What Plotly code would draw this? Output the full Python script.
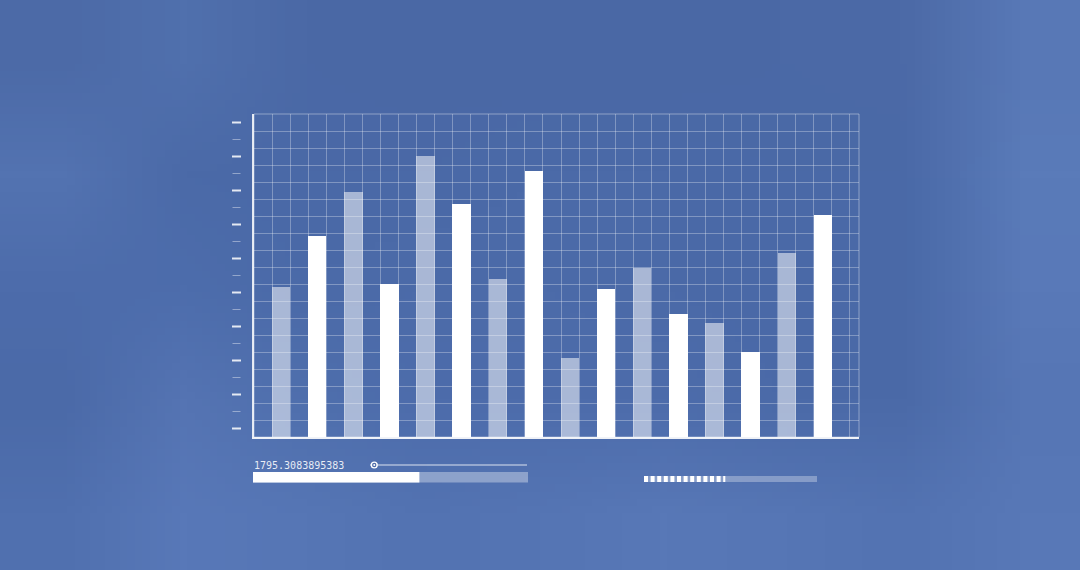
import base64
import struct
import zlib

import plotly.graph_objects as go

# ---------------- data ----------------
bar_slots = list(range(1, 17))
bar_values = [8.83, 11.84, 14.39, 8.98, 16.55, 13.70, 9.27, 15.63,
              4.62, 8.68, 9.92, 7.21, 6.70, 4.99, 10.80, 13.04]
bar_styles = ["light", "solid"] * 8
y_grid_max = 19
x_grid_max = 33.5
major_ticks = [0.5, 2.5, 4.5, 6.5, 8.5, 10.5, 12.5, 14.5, 16.5, 18.5]
minor_ticks = [1.5, 3.5, 5.5, 7.5, 9.5, 11.5, 13.5, 15.5, 17.5]
readout_text = "1795.3083895383"
slider_value = 0.027
progress_value = 0.605
dash_progress = 0.47

# coarse tones of the blurred backdrop (rows top->bottom, cols left->right)
backdrop_tones = [
    ["4c6aa7", "5070ad", "4b69a6", "4a68a5", "4a68a5", "4a68a5", "4b69a6", "4c6aa7", "5878b6"],
    ["5373b1", "4b6aa8", "4a69a7", "4a69a7", "4b6aa8", "4b6aa8", "4a69a7", "4a69a7", "5a7bb9"],
    ["4d6cab", "4d6dac", "4b6aa8", "4c6ba9", "4c6ba9", "4b6aa8", "4a69a7", "4a69a7", "5979b8"],
    ["4b6aa8", "5574b3", "4f6fad", "4d6cab", "4d6cab", "4d6cab", "4b6aa8", "4b6aa8", "5676b5"],
    ["5070af", "5878b8", "5676b5", "5373b2", "5575b4", "5878b7", "5676b5", "5373b2", "5878b7"],
]

# ---------------- layout helpers (pixel -> paper) ----------------
W, H = 1080, 570
L, R, T, B = 254, 859, 114, 437


def px(x):
    return (x - L) / (R - L)


def py(y):
    return (B - y) / (B - T)


def tiny_png(rows_hex):
    h = len(rows_hex)
    w = len(rows_hex[0])
    raw = b"".join(b"\x00" + b"".join(bytes.fromhex(c) for c in row) for row in rows_hex)

    def chunk(tag, data):
        return (struct.pack(">I", len(data)) + tag + data
                + struct.pack(">I", zlib.crc32(tag + data) & 0xFFFFFFFF))

    png = (b"\x89PNG\r\n\x1a\n"
           + chunk(b"IHDR", struct.pack(">IIBBBBB", w, h, 8, 2, 0, 0, 0))
           + chunk(b"IDAT", zlib.compress(raw))
           + chunk(b"IEND", b""))
    return "data:image/png;base64," + base64.b64encode(png).decode()


BG = "#4c6aa8"
WHITE = "#ffffff"
LIGHT = "rgba(255,255,255,0.52)"
GRID = "rgba(255,255,255,0.30)"

bar_x = [2 * s - 0.5 for s in bar_slots]
bar_colors = [LIGHT if s == "light" else WHITE for s in bar_styles]

fig = go.Figure()
fig.add_trace(go.Bar(
    x=bar_x, y=bar_values, width=1.02,
    marker=dict(color=bar_colors, line=dict(width=0)),
    hoverinfo="skip", showlegend=False,
))

images = [dict(
    source=tiny_png(backdrop_tones), xref="paper", yref="paper",
    x=px(0), y=py(0), sizex=px(W) - px(0), sizey=py(0) - py(H),
    xanchor="left", yanchor="top", sizing="stretch", layer="below", opacity=1,
)]

shapes = []

# frame (top/right in grid tone)
shapes.append(dict(type="rect", xref="paper", yref="paper", x0=0, x1=1, y0=0, y1=1,
                   line=dict(color="rgba(255,255,255,0.38)", width=1), layer="below"))

# left outside tick marks
for v in major_ticks:
    shapes.append(dict(type="line", xref="paper", yref="y",
                       x0=px(232), x1=px(241), y0=v, y1=v,
                       line=dict(color="rgba(255,255,255,0.85)", width=2)))
for v in minor_ticks:
    shapes.append(dict(type="line", xref="paper", yref="y",
                       x0=px(232.5), x1=px(240.5), y0=v, y1=v,
                       line=dict(color="rgba(255,255,255,0.40)", width=1)))

# slider
sl_x0, sl_x1, sl_y = 370, 527, 465
shapes.append(dict(type="line", xref="paper", yref="paper",
                   x0=px(sl_x0), x1=px(sl_x1), y0=py(sl_y), y1=py(sl_y),
                   line=dict(color="rgba(255,255,255,0.8)", width=1)))
kx = sl_x0 + slider_value * (sl_x1 - sl_x0)
for r, col in [(3.6, WHITE), (2.2, BG), (1.0, WHITE)]:
    shapes.append(dict(type="circle", xref="paper", yref="paper",
                       x0=px(kx - r), x1=px(kx + r), y0=py(sl_y + r), y1=py(sl_y - r),
                       fillcolor=col, line=dict(width=0)))

# progress bar
pb_x0, pb_x1, pb_y0, pb_y1 = 253, 528, 472, 482.5
shapes.append(dict(type="rect", xref="paper", yref="paper",
                   x0=px(pb_x0), x1=px(pb_x1), y0=py(pb_y1), y1=py(pb_y0),
                   fillcolor="rgba(255,255,255,0.35)", line=dict(width=0)))
shapes.append(dict(type="rect", xref="paper", yref="paper",
                   x0=px(pb_x0), x1=px(pb_x0 + progress_value * (pb_x1 - pb_x0)),
                   y0=py(pb_y1), y1=py(pb_y0),
                   fillcolor=WHITE, line=dict(width=0)))

# dashed progress bar
db_x0, db_x1, db_y0, db_y1 = 644, 817, 476, 482
shapes.append(dict(type="rect", xref="paper", yref="paper",
                   x0=px(db_x0), x1=px(db_x1), y0=py(db_y1), y1=py(db_y0),
                   fillcolor="rgba(255,255,255,0.30)", line=dict(width=0)))
dash_end = db_x0 + dash_progress * (db_x1 - db_x0)
pitch, dw = 6.6, 4.0
xx = db_x0
while xx < dash_end:
    shapes.append(dict(type="rect", xref="paper", yref="paper",
                       x0=px(xx), x1=px(min(xx + dw, dash_end)),
                       y0=py(db_y1), y1=py(db_y0),
                       fillcolor=WHITE, line=dict(width=0)))
    xx += pitch

annotations = [dict(
    text=readout_text, xref="paper", yref="paper",
    x=px(252), y=py(465), xanchor="left", yanchor="middle", showarrow=False,
    font=dict(family="DejaVu Sans Mono", size=10, color="rgba(255,255,255,0.88)"),
)]

fig.update_layout(
    width=W, height=H,
    margin=dict(l=L, r=W - R, t=T, b=H - B, pad=0),
    paper_bgcolor=BG, plot_bgcolor="rgba(0,0,0,0)",
    shapes=shapes, annotations=annotations, images=images,
    bargap=0, showlegend=False,
)
fig.update_xaxes(range=[0, x_grid_max], tickvals=list(range(0, 34)),
                 showticklabels=False, ticks="", showgrid=True, gridcolor=GRID, gridwidth=1,
                 showline=True, linecolor="rgba(255,255,255,0.9)", linewidth=2,
                 zeroline=False, fixedrange=True)
fig.update_yaxes(range=[0, y_grid_max], tickvals=list(range(0, y_grid_max + 1)),
                 showticklabels=False, ticks="", showgrid=True, gridcolor=GRID, gridwidth=1,
                 showline=True, linecolor="rgba(255,255,255,0.85)", linewidth=1.5,
                 zeroline=False, fixedrange=True)

fig.write_html("out.html", config={"displayModeBar": False},
               post_script="document.body.style.margin='0';")
